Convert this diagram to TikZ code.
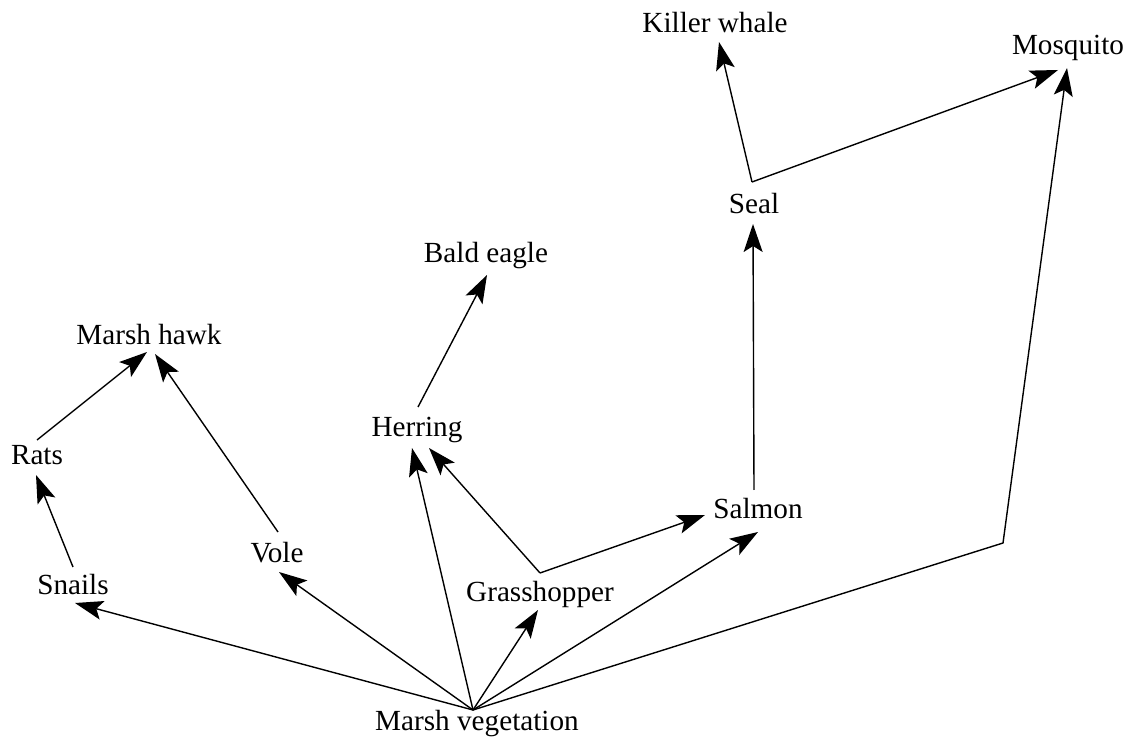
\documentclass[tikz,border=0pt]{standalone}
\usepackage{fontspec}
\setmainfont{Liberation Serif}
\usetikzlibrary{arrows.meta}
\tikzset{
  lbl/.style={anchor=base, inner sep=0pt, font=\fontsize{14.6pt}{17pt}\selectfont},
  arr/.style={line width=0.7pt, -{Stealth[length=14pt, width=9.5pt, inset=3pt]}},
  ln/.style={line width=0.7pt}
}
\begin{document}
\begin{tikzpicture}[x=0.5pt,y=-0.5pt]
\useasboundingbox (0,0) rectangle (1130,742);
% labels
\node[lbl] (killer) at (715,33) {Killer whale};
\node[lbl] (mosq) at (1068,55) {Mosquito};
\node[lbl] (seal) at (754,214) {Seal};
\node[lbl] (eagle) at (486,263) {Bald eagle};
\node[lbl] (hawk) at (149,345) {Marsh hawk};
\node[lbl] (rats) at (37,465) {Rats};
\node[lbl] (herring) at (417,437) {Herring};
\node[lbl] (salmon) at (758,519) {Salmon};
\node[lbl] (vole) at (277,563) {Vole};
\node[lbl] (snails) at (73,595) {Snails};
\node[lbl] (grass) at (540,602) {Grasshopper};
\node[lbl] (veg) at (477,731) {Marsh vegetation};
% connector points
\coordinate (vegO) at (473,710);
\coordinate (snailsT) at (75,603);
\coordinate (snailsS) at (73,567);
\coordinate (ratsT) at (36,475);
\coordinate (ratsS) at (37,440);
\coordinate (hawkT1) at (147,352);
\coordinate (hawkT2) at (155,354);
\coordinate (voleT) at (279,572);
\coordinate (voleS) at (278,532);
\coordinate (herringT1) at (412,448);
\coordinate (herringT2) at (429,448);
\coordinate (herringS) at (418,407);
\coordinate (eagleT) at (487,275);
\coordinate (grassT) at (538,610);
\coordinate (grassB) at (540,573);
\coordinate (salmonT1) at (705,515);
\coordinate (salmonT2) at (758,532);
\coordinate (salmonS) at (754,490);
\coordinate (sealT) at (753,224);
\coordinate (sealB) at (752,182);
\coordinate (killerT) at (719,42);
\coordinate (mosqT1) at (1058,70);
\coordinate (mosqT2) at (1067,68);
\coordinate (mosqB) at (1003,543);
% connectors
\draw[arr] (vegO) -- (snailsT);
\draw[arr] (vegO) -- (voleT);
\draw[arr] (vegO) -- (herringT1);
\draw[arr] (vegO) -- (grassT);
\draw[arr] (vegO) -- (salmonT2);
\draw[arr] (vegO) -- (mosqB) -- (mosqT2);
\draw[arr] (snailsS) -- (ratsT);
\draw[arr] (ratsS) -- (hawkT1);
\draw[arr] (voleS) -- (hawkT2);
\draw[arr] (herringS) -- (eagleT);
\draw[arr] (grassB) -- (herringT2);
\draw[arr] (grassB) -- (salmonT1);
\draw[arr] (salmonS) -- (sealT);
\draw[arr] (sealB) -- (killerT);
\draw[arr] (sealB) -- (mosqT1);
\end{tikzpicture}
\end{document}
